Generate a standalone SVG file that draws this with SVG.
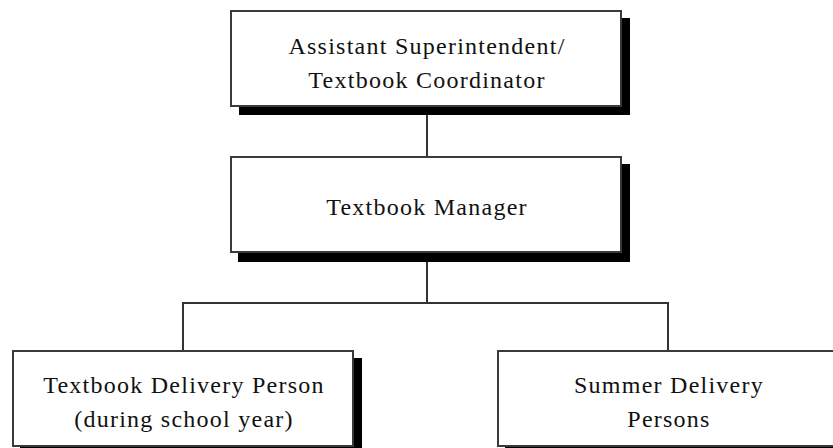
<svg xmlns="http://www.w3.org/2000/svg" width="833" height="448" viewBox="0 0 833 448">
  <style>
    .shadow { fill: #000; }
    .box { fill: #fff; stroke: #3a3a3a; stroke-width: 2; }
    .link { fill: none; stroke: #333; stroke-width: 2; }
    .label { font-family: "Liberation Serif", "Times New Roman", serif; font-size: 24px; letter-spacing: 1.25px; fill: #111; text-anchor: middle; }
  </style>
  <rect width="833" height="448" fill="#fff"/>

  <!-- connectors -->
  <g id="connectors">
    <path class="link" d="M427 115 V157"/>
    <path class="link" d="M427 262 V303"/>
    <path class="link" d="M183 351 V303 H668 V351"/>
  </g>

  <!-- top: coordinator -->
  <g id="node-coordinator">
    <rect class="shadow" x="239" y="18" width="391" height="97"/>
    <rect class="box" x="231" y="11" width="390" height="95"/>
    <text class="label" x="427" y="54">Assistant Superintendent/</text>
    <text class="label" x="427" y="88">Textbook Coordinator</text>
  </g>

  <!-- middle: manager -->
  <g id="node-manager">
    <rect class="shadow" x="238" y="164" width="392" height="98"/>
    <rect class="box" x="231" y="157" width="390" height="95"/>
    <text class="label" x="427" y="215">Textbook Manager</text>
  </g>

  <!-- bottom left: school-year delivery -->
  <g id="node-delivery-school">
    <rect class="shadow" x="20" y="358" width="342" height="97"/>
    <rect class="box" x="13" y="351" width="340" height="95"/>
    <text class="label" x="184" y="393">Textbook Delivery Person</text>
    <text class="label" x="184" y="427">(during school year)</text>
  </g>

  <!-- bottom right: summer delivery -->
  <g id="node-delivery-summer">
    <rect class="shadow" x="505" y="358" width="342" height="97"/>
    <rect class="box" x="498" y="351" width="340" height="95"/>
    <text class="label" x="669" y="393">Summer Delivery</text>
    <text class="label" x="669" y="427">Persons</text>
  </g>
</svg>
